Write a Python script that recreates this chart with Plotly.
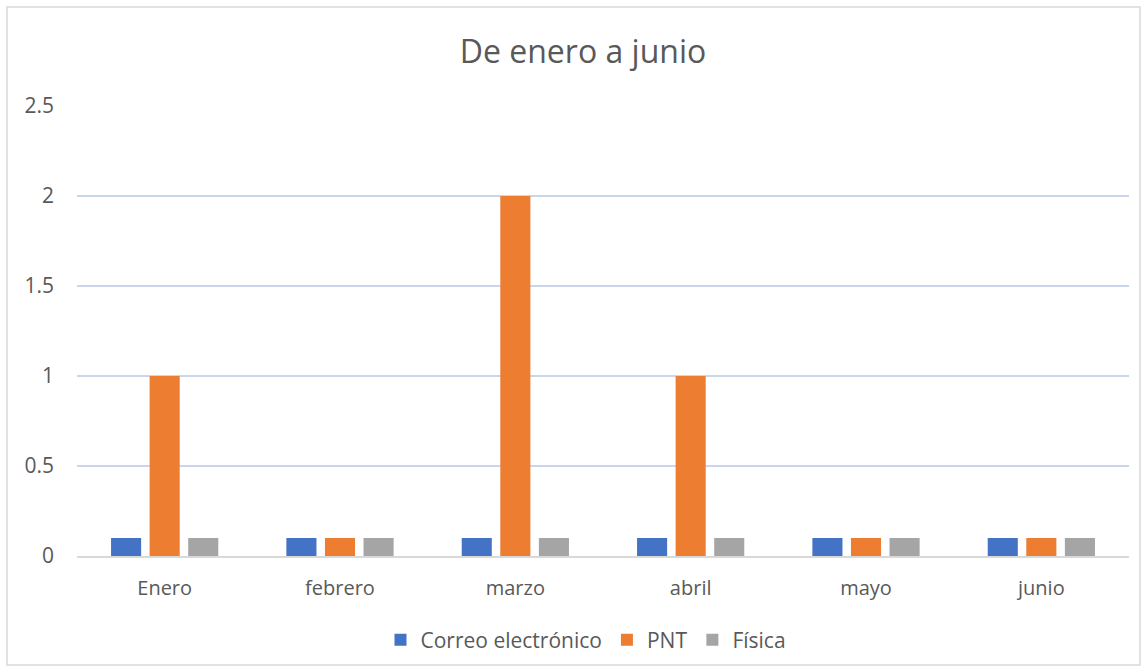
import plotly.graph_objects as go

months = ["Enero", "febrero", "marzo", "abril", "mayo", "junio"]
correo = [0.1, 0.1, 0.1, 0.1, 0.1, 0.1]
pnt = [1, 0.1, 2, 1, 0.1, 0.1]
fisica = [0.1, 0.1, 0.1, 0.1, 0.1, 0.1]
series_names = ["Correo electrónico", "PNT", "Física"]
colors = ["#4472C4", "#ED7D31", "#A5A5A5"]
y_ticks = [0, 0.5, 1, 1.5, 2, 2.5]
y_tick_text = ["0", "0.5", "1", "1.5", "2", "2.5"]

W, H = 1147, 672
L, R, T, B = 77, 18, 106, 116
pw = W - L - R
ph = H - T - B

def px_x(x):
    return (x - L) / pw

def px_y(y):
    return (H - B - y) / ph

FONT = "Open Sans"
TXT = "#595959"

fig = go.Figure()
for name, vals, c in zip(series_names, [correo, pnt, fisica], colors):
    fig.add_trace(go.Bar(x=months, y=vals, name=name, marker=dict(color=c, line=dict(width=0))))

fig.update_layout(
    width=W, height=H,
    margin=dict(l=L, r=R, t=T, b=B),
    paper_bgcolor="white", plot_bgcolor="white",
    barmode="group", bargap=0.34, bargroupgap=0.22,
    title=dict(text="De enero a junio", x=px_x(583), xref="paper", xanchor="center",
               y=1 - 52 / H, yanchor="middle",
               font=dict(family=FONT, size=32, color=TXT)),
    font=dict(family=FONT, color=TXT),
    legend=dict(orientation="h", x=px_x(586), xanchor="center", y=px_y(640), yanchor="middle",
                font=dict(family=FONT, size=21, color=TXT), itemwidth=30,
                traceorder="normal"),
    xaxis=dict(showgrid=False, showline=True, linecolor="#D9D9D9", linewidth=1.5,
               ticks="", tickfont=dict(family=FONT, size=20, color=TXT), ticklabelstandoff=13),
    yaxis=dict(range=[0, 2.5], tickvals=y_ticks, ticktext=y_tick_text, showgrid=True,
               gridcolor="#C8D5EC", gridwidth=1.5, zeroline=False, showline=False, ticks="",
               tickfont=dict(family=FONT, size=21, color=TXT), ticklabelstandoff=22),
    shapes=[dict(type="rect", xref="paper", yref="paper",
                 x0=px_x(7), x1=px_x(1140), y0=px_y(665), y1=px_y(7),
                 line=dict(color="#D9D9D9", width=1.5), fillcolor="rgba(0,0,0,0)", layer="below")],
)

fig.write_html("out.html", config={"displayModeBar": False},
               post_script="document.body.style.margin='0px';")
